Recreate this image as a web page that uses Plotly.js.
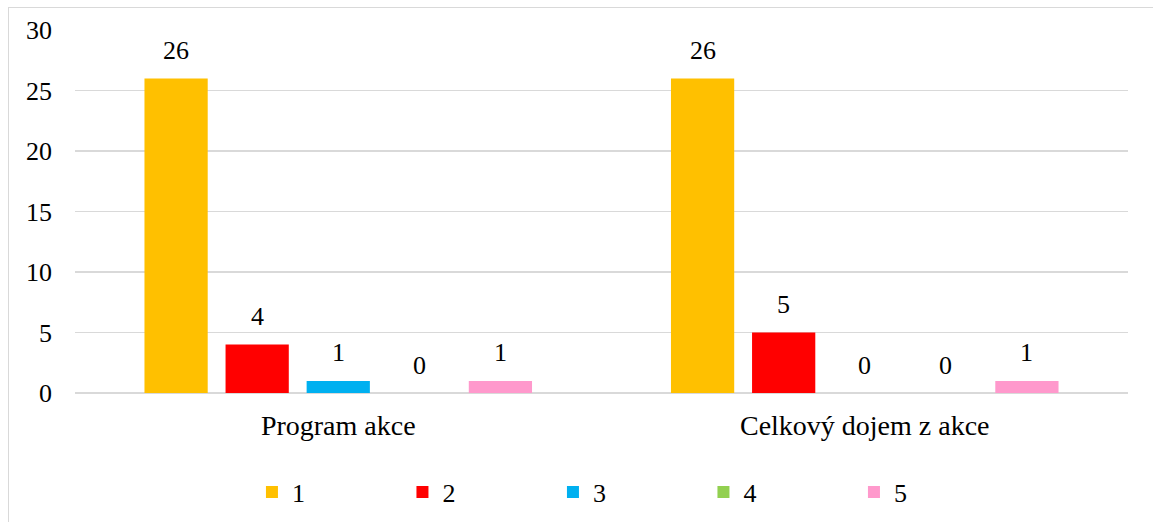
<!DOCTYPE html>
<html>
<head>
<meta charset="utf-8">
<script src="https://cdn.plot.ly/plotly-3.0.1.min.js"></script>
<style>
  html, body { margin: 0; padding: 0; background: #ffffff; overflow: hidden; }
  #wrap { position: relative; width: 1153px; height: 522px; }
  #chart { position: absolute; left: 0; top: 0; width: 1153px; height: 522px; }
  #frame {
    position: absolute; left: 8px; top: 7px; width: 1200px; height: 600px;
    border: 1.5px solid #d9d9d9; pointer-events: none; box-sizing: border-box;
  }
</style>
</head>
<body>
<div id="wrap">
  <div id="chart"></div>
  <div id="frame"></div>
</div>
<script>
// Rating categories and how many respondents gave each score (1 = best)
const categories = ['Program akce', 'Celkový dojem z akce'];
const seriesNames = ['1', '2', '3', '4', '5'];
const score1 = [26, 26];
const score2 = [4, 5];
const score3 = [1, 0];
const score4 = [0, 0];
const score5 = [1, 1];
const seriesColors = ['#FFC000', '#FF0000', '#00B0F0', '#92D050', '#FF99CC'];

const seriesValues = [score1, score2, score3, score4, score5];
const FONT = "'Times New Roman', 'Liberation Serif', Tinos, 'DejaVu Serif', 'Liberation Sans', serif";
const BARGAP = 0.23;

const traces = seriesValues.map((vals, i) => ({
  type: 'bar',
  name: seriesNames[i],
  x: categories,
  y: vals,
  marker: { color: seriesColors[i], line: { width: 0 } },
  hoverinfo: 'x+y+name'
}));

// Value labels above each bar, placed at the bar's slot within its group
const slot = (1 - BARGAP) / seriesValues.length;
const annotations = [];
seriesValues.forEach((vals, i) => {
  vals.forEach((v, c) => {
    annotations.push({
      xref: 'x', yref: 'y',
      x: c - (1 - BARGAP) / 2 + slot * (i + 0.5),
      y: v,
      text: String(v),
      showarrow: false,
      xanchor: 'center', yanchor: 'middle',
      yshift: 28,
      font: { family: FONT, size: 26, color: '#000000' }
    });
  });
});

const layout = {
  width: 1153, height: 522,
  margin: { l: 75, r: 25, t: 30, b: 129, autoexpand: false },
  paper_bgcolor: 'rgba(0,0,0,0)',
  plot_bgcolor: 'rgba(0,0,0,0)',
  font: { family: FONT, size: 26, color: '#000000' },
  barmode: 'group',
  bargap: BARGAP,
  bargroupgap: 0.22,
  showlegend: true,
  legend: {
    orientation: 'h',
    x: 0.5256, xanchor: 'center',
    y: -0.2727, yanchor: 'middle',
    entrywidth: 105.5, entrywidthmode: 'pixels',
    font: { family: FONT, size: 26, color: '#000000' },
    traceorder: 'normal'
  },
  xaxis: {
    type: 'category',
    showgrid: false,
    showline: false,
    zeroline: false,
    ticks: '',
    ticklabelstandoff: 13,
    tickfont: { family: FONT, size: 28, color: '#000000' },
    fixedrange: true
  },
  yaxis: {
    range: [0, 30],
    dtick: 5,
    showgrid: true,
    gridcolor: '#d9d9d9',
    gridwidth: 1.5,
    zeroline: true,
    zerolinecolor: '#d9d9d9',
    zerolinewidth: 1.5,
    showline: false,
    ticks: '',
    ticklabelstandoff: 22,
    tickfont: { family: FONT, size: 26, color: '#000000' },
    fixedrange: true
  },
  annotations: annotations
};

Plotly.newPlot('chart', traces, layout, { displayModeBar: false, staticPlot: true });
</script>
</body>
</html>
